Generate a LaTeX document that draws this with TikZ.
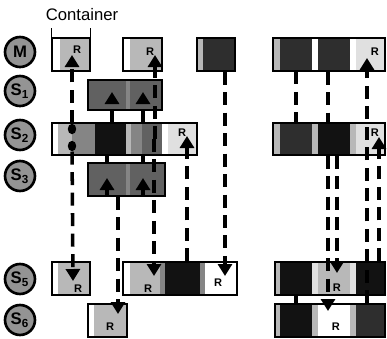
\documentclass[tikz,border=0pt]{standalone}
\usepackage{fontspec}
\setmainfont{Liberation Sans}
\usepackage{tikz}
\usetikzlibrary{shapes.geometric, arrows.meta, fit}
\tikzset{
  box/.style   = {rectangle, draw=black, line width=0.6pt, inner sep=0pt},
  cell/.style  = {rectangle, draw=none, inner sep=0pt},
  strip/.style = {cell, fill=white},
  pale/.style  = {cell, fill=black!12},
  lite/.style  = {cell, fill=black!28},
  mid/.style   = {cell, fill=black!48},
  dark/.style  = {cell, fill=black!62},
  deep/.style  = {cell, fill=black!82},
  coal/.style  = {cell, fill=black!93},
  badge/.style = {circle, draw=black, line width=1.5pt, fill=black!42,
                  minimum size=0.6cm, inner sep=0pt,
                  font=\fontsize{9.5}{10}\selectfont\bfseries},
  rlab/.style  = {font=\fontsize{6.3}{7}\selectfont\bfseries, inner sep=0pt},
  blob/.style  = {ellipse, fill=black, minimum width=0.17cm,
                  minimum height=0.21cm, inner sep=0pt},
  joint/.style = {line width=2pt, dash pattern=on 2.6mm off 1.5mm},
  link/.style  = {joint, -{Triangle[length=2.4mm, width=2.8mm]}},
}

\begin{document}
\begin{tikzpicture}[x=0.02cm, y=-0.02cm]
  \useasboundingbox (0,0) rectangle (387,339);

  % ── node badges ────────────────────────────────────────────────────────────
  \node[badge] (mst) at (20,52)  {M};
  \node[badge] (sl1) at (20,91)  {S\textsubscript{1}};
  \node[badge] (sl2) at (20,135) {S\textsubscript{2}};
  \node[badge] (sl3) at (20,176) {S\textsubscript{3}};
  \node[badge] (sl5) at (20,279) {S\textsubscript{5}};
  \node[badge] (sl6) at (20,320) {S\textsubscript{6}};

  \node[font=\fontsize{9.5}{11}\selectfont] (ctag) at (82,15) {Container};

  % ── M row ──────────────────────────────────────────────────────────────────
  \node[strip, fit={(52,38)(60,71)}]   (m1a) {};
  \node[lite,  fit={(60,38)(90,71)}]   (m1b) {};
  \node[box,   fit={(52,38)(90,71)}]   (m1)  {};
  \draw[line width=0.6pt] (m1.north west) -- ++(0,-9);
  \draw[line width=0.6pt] (m1.north east) -- ++(0,-9);

  \node[strip, fit={(123,38)(130,71)}] (m2a) {};
  \node[lite,  fit={(130,38)(162,71)}] (m2b) {};
  \node[box,   fit={(123,38)(162,71)}] (m2)  {};

  \node[lite,  fit={(197,38)(203,71)}] (m3a) {};
  \node[deep,  fit={(203,38)(235,71)}] (m3b) {};
  \node[box,   fit={(197,38)(235,71)}] (m3)  {};

  \node[lite,  fit={(273,38)(280,71)}] (m4a) {};
  \node[deep,  fit={(280,38)(312,71)}] (m4b) {};
  \node[strip, fit={(312,38)(318,71)}] (m4c) {};
  \node[deep,  fit={(318,38)(350,71)}] (m4d) {};
  \node[strip, fit={(350,38)(356,71)}] (m4e) {};
  \node[pale,  fit={(356,38)(385,71)}] (m4f) {};
  \node[box,   fit={(273,38)(385,71)}] (m4)  {};

  % ── S1 row ─────────────────────────────────────────────────────────────────
  \node[dark,  fit={(88,80)(126,110)}]  (s1a) {};
  \node[mid,   fit={(126,80)(130,110)}] (s1b) {};
  \node[dark,  fit={(130,80)(162,110)}] (s1c) {};
  \node[box,   fit={(88,80)(162,110)}]  (s1)  {};

  % ── S2 row ─────────────────────────────────────────────────────────────────
  \node[strip, fit={(52,123)(58,155)}]   (s2a) {};
  \node[lite,  fit={(58,123)(72,155)}]   (s2b) {};
  \node[mid,   fit={(72,123)(95,155)}]   (s2c) {};
  \node[coal,  fit={(95,123)(126,155)}]  (s2d) {};
  \node[lite,  fit={(126,123)(131,155)}] (s2e) {};
  \node[mid,   fit={(131,123)(142,155)}] (s2f) {};
  \node[dark,  fit={(142,123)(162,155)}] (s2g) {};
  \node[strip, fit={(162,123)(168,155)}] (s2h) {};
  \node[pale,  fit={(168,123)(197,155)}] (s2i) {};
  \node[box,   fit={(52,123)(197,155)}]  (s2l) {};

  \node[lite,  fit={(273,123)(280,155)}] (s2ra) {};
  \node[deep,  fit={(280,123)(312,155)}] (s2rb) {};
  \node[lite,  fit={(312,123)(318,155)}] (s2rc) {};
  \node[coal,  fit={(318,123)(350,155)}] (s2rd) {};
  \node[lite,  fit={(350,123)(356,155)}] (s2re) {};
  \node[pale,  fit={(356,123)(385,155)}] (s2rf) {};
  \node[box,   fit={(273,123)(385,155)}] (s2r)  {};

  % ── S3 row ─────────────────────────────────────────────────────────────────
  \node[dark,  fit={(88,163)(126,196)}]  (s3a) {};
  \node[mid,   fit={(126,163)(130,196)}] (s3b) {};
  \node[dark,  fit={(130,163)(165,196)}] (s3c) {};
  \node[box,   fit={(88,163)(165,196)}]  (s3)  {};

  % ── S5 row ─────────────────────────────────────────────────────────────────
  \node[strip, fit={(52,262)(58,295)}]   (s5aa) {};
  \node[lite,  fit={(58,262)(90,295)}]   (s5ab) {};
  \node[box,   fit={(52,262)(90,295)}]   (s5a)  {};

  \node[strip, fit={(123,262)(130,295)}] (s5ba) {};
  \node[lite,  fit={(130,262)(160,295)}] (s5bb) {};
  \node[mid,   fit={(160,262)(165,295)}] (s5bc) {};
  \node[coal,  fit={(165,262)(200,295)}] (s5bd) {};
  \node[mid,   fit={(200,262)(205,295)}] (s5be) {};
  \node[strip, fit={(205,262)(237,295)}] (s5bf) {};
  \node[box,   fit={(123,262)(237,295)}] (s5b)  {};

  \node[lite,  fit={(275,262)(280,295)}] (s5ra) {};
  \node[coal,  fit={(280,262)(312,295)}] (s5rb) {};
  \node[pale,  fit={(312,262)(318,295)}] (s5rc) {};
  \node[lite,  fit={(318,262)(350,295)}] (s5rd) {};
  \node[pale,  fit={(350,262)(356,295)}] (s5re) {};
  \node[coal,  fit={(356,262)(385,295)}] (s5rf) {};
  \node[box,   fit={(275,262)(385,295)}] (s5r)  {};

  % ── S6 row ─────────────────────────────────────────────────────────────────
  \node[strip, fit={(88,304)(94,337)}]   (s6a) {};
  \node[lite,  fit={(94,304)(127,337)}]  (s6b) {};
  \node[box,   fit={(88,304)(127,337)}]  (s6)  {};

  \node[lite,  fit={(275,304)(280,337)}] (s6ra) {};
  \node[coal,  fit={(280,304)(312,337)}] (s6rb) {};
  \node[lite,  fit={(312,304)(318,337)}] (s6rc) {};
  \node[strip, fit={(318,304)(350,337)}] (s6rd) {};
  \node[lite,  fit={(350,304)(356,337)}] (s6re) {};
  \node[deep,  fit={(356,304)(385,337)}] (s6rf) {};
  \node[box,   fit={(275,304)(385,337)}] (s6r)  {};

  % ── R marks ────────────────────────────────────────────────────────────────
  \node[rlab] (m1r)  at (77,50)   {R};
  \node[rlab] (m2r)  at (150,52)  {R};
  \node[rlab] (m4r)  at (375,52)  {R};
  \node[rlab] (s2r1) at (182,133) {R};
  \node[rlab] (s2r2) at (375,133) {R};
  \node[rlab] (s5r1) at (78,289)  {R};
  \node[rlab] (s5r2) at (148,289) {R};
  \node[rlab] (s5r3) at (218,283) {R};
  \node[rlab] (s5r4) at (337,288) {R};
  \node[rlab] (s6r1) at (110,327) {R};
  \node[rlab] (s6r2) at (336,327) {R};

  % ── arrow ends ─────────────────────────────────────────────────────────────
  \coordinate (m1in)   at (72,55);
  \coordinate (m2in)   at (155,55);
  \coordinate (m4in)   at (367,58);
  \coordinate (s1in1)  at (112,92);
  \coordinate (s1in2)  at (143,92);
  \coordinate (s2lin)  at (187,136);
  \coordinate (s2rin)  at (379,137);
  \coordinate (s3in1)  at (107,178);
  \coordinate (s3in2)  at (143,178);
  \coordinate (s5ain)  at (73,281);
  \coordinate (s5bin)  at (154,276);
  \coordinate (s5bin2) at (225,276);
  \coordinate (s5rin)  at (337,273);
  \coordinate (s6in)   at (118,314);
  \coordinate (s6rin)  at (328,311);

  \node[blob] (s2up) at (72,129) {};
  \node[blob] (s2dn) at (72,146) {};

  % ── left group links ───────────────────────────────────────────────────────
  \draw[link] (s2up) -- (m1in);
  \draw[link] (s2dn) -- (s5ain);
  \draw[link] (s2g -| m2in) -- (m2in);
  \draw[link] (s2g -| s5bin) -- (s5bin);
  \draw[link] (s2l.north -| s1in1) -- (s1in1);
  \draw[link] (s2l.north -| s1in2) -- (s1in2);
  \draw[joint] (s2l.south -| s3in1) -- (s3.north -| s3in1);
  \draw[joint] (s2l.south -| s3in2) -- (s3.north -| s3in2);
  \draw[link, solid] (s3.south -| s3in1) -- (s3in1);
  \draw[link, solid] (s3.south -| s3in2) -- (s3in2);
  \draw[link] (s3.south -| s6in) -- (s6in);
  \draw[link] (s5b.north -| s2lin) -- (s2lin);
  \draw[link] (m3.south -| s5bin2) -- (s5bin2);

  % ── right group links ──────────────────────────────────────────────────────
  \draw[joint] (m4b.south) -- (s2rb.north);
  \draw[joint] (m4.south -| s6rin) -- (s2r.north -| s6rin);
  \draw[link] (s2r.south -| s6rin) -- (s6rin);
  \draw[link] (s6r.north -| m4in) -- (m4in);
  \draw[link] (s5r.north -| s2rin) -- (s2rin);
  \draw[link] (s2r.south -| s5rin) -- (s5rin);
  \draw[joint] (s5rb.south) -- (s6rb.north);

\end{tikzpicture}
\end{document}
